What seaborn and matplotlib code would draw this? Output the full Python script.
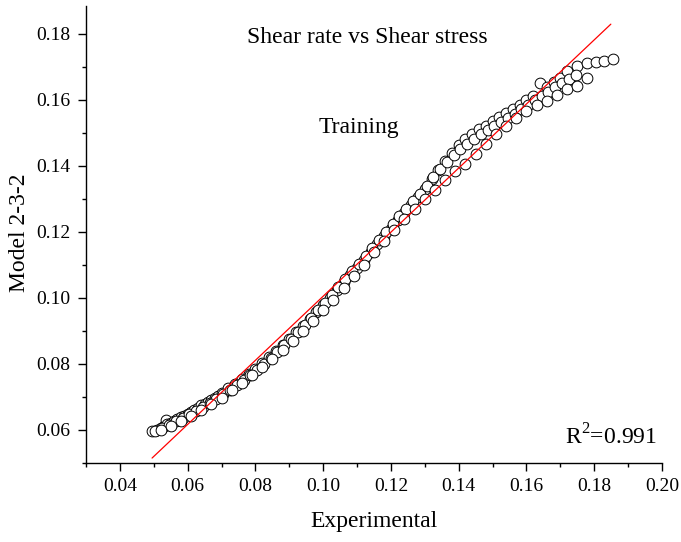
import matplotlib
matplotlib.use("Agg")
import matplotlib.pyplot as plt
import seaborn as sns
import pandas as pd
from matplotlib.ticker import MultipleLocator, FormatStrFormatter

# ---- data ----
exp_upper = [0.0495, 0.051, 0.052, 0.053, 0.0536, 0.054, 0.055, 0.056, 0.057, 0.058, 0.059,
             0.060, 0.061, 0.062, 0.063, 0.064, 0.065, 0.066, 0.067, 0.068, 0.069,
             0.070, 0.072, 0.074, 0.076, 0.078, 0.080, 0.082, 0.084, 0.086, 0.088,
             0.090, 0.092, 0.094, 0.096, 0.098, 0.100, 0.102, 0.104, 0.106, 0.108,
             0.110, 0.112, 0.114, 0.116, 0.118, 0.120, 0.122, 0.124, 0.126, 0.128,
             0.130, 0.132, 0.134, 0.136, 0.138, 0.140, 0.142, 0.144, 0.146, 0.148,
             0.150, 0.152, 0.154, 0.156, 0.158, 0.160, 0.162, 0.164, 0.166, 0.168,
             0.170, 0.172, 0.1748, 0.1778, 0.1806, 0.183, 0.1855]
mod_upper = [0.0596, 0.0601, 0.0606, 0.0612, 0.0630, 0.0618, 0.0622, 0.0628, 0.0633, 0.0638, 0.0643,
             0.0648, 0.0655, 0.0660, 0.0668, 0.0675, 0.0680, 0.0686, 0.0692, 0.0698, 0.0704,
             0.0712, 0.0726, 0.0740, 0.0755, 0.0770, 0.0786, 0.0803, 0.0820, 0.0838, 0.0857,
             0.0877, 0.0896, 0.0916, 0.0936, 0.0957, 0.0978, 0.1000, 0.1025, 0.1048, 0.1070,
             0.1092, 0.1115, 0.1138, 0.1162, 0.1186, 0.1210, 0.1235, 0.1258, 0.1280, 0.1305,
             0.1330, 0.1360, 0.1388, 0.1415, 0.1440, 0.1462, 0.1480, 0.1495, 0.1510, 0.1522,
             0.1535, 0.1548, 0.1560, 0.1572, 0.1585, 0.1598, 0.1612, 0.1651, 0.1640, 0.1655,
             0.1665, 0.1688, 0.1703, 0.1712, 0.1715, 0.1718, 0.1724]

exp_mid = [0.0505, 0.0525, 0.0545, 0.0565, 0.0585, 0.0605, 0.0625, 0.0645, 0.0665, 0.0685,
           0.0705, 0.0725, 0.0745, 0.0765, 0.0785, 0.0805, 0.0825, 0.0845, 0.0865, 0.0885,
           0.0905, 0.0925, 0.0945, 0.0965, 0.0985, 0.1005, 0.1025, 0.1045, 0.1065, 0.1085,
           0.1105, 0.1125, 0.1145, 0.1165, 0.1185, 0.1205, 0.1225, 0.1245, 0.1265, 0.1285,
           0.1305, 0.1325, 0.1345, 0.1365, 0.1385, 0.1405, 0.1425, 0.1445, 0.1465, 0.1485,
           0.1505, 0.1525, 0.1545, 0.1565, 0.1585, 0.1605, 0.1625, 0.1645, 0.1665, 0.1685,
           0.1705, 0.1725, 0.1745]
mod_mid = [0.0597, 0.0605, 0.0615, 0.0626, 0.0636, 0.0647, 0.0658, 0.0670, 0.0682, 0.0695,
           0.0708, 0.0721, 0.0735, 0.0750, 0.0766, 0.0782, 0.0799, 0.0817, 0.0836, 0.0856,
           0.0876, 0.0897, 0.0918, 0.0940, 0.0962, 0.0985, 0.1008, 0.1032, 0.1056, 0.1080,
           0.1104, 0.1128, 0.1152, 0.1176, 0.1200, 0.1223, 0.1247, 0.1270, 0.1293, 0.1316,
           0.1340, 0.1365, 0.1390, 0.1412, 0.1432, 0.1450, 0.1466, 0.1481, 0.1495, 0.1508,
           0.1521, 0.1534, 0.1546, 0.1558, 0.1571, 0.1584, 0.1598, 0.1612, 0.1625, 0.1638,
           0.1650, 0.1662, 0.1675]

exp_lower = [0.052, 0.055, 0.058, 0.061, 0.064, 0.067, 0.070, 0.073, 0.076, 0.079,
             0.082, 0.085, 0.088, 0.091, 0.094, 0.097, 0.100, 0.103, 0.106, 0.109,
             0.112, 0.115, 0.118, 0.121, 0.124, 0.127, 0.130, 0.133, 0.136, 0.139,
             0.142, 0.145, 0.148, 0.151, 0.154, 0.157, 0.160, 0.163, 0.166, 0.169,
             0.172, 0.175, 0.178]
mod_lower = [0.0600, 0.0612, 0.0628, 0.0643, 0.0660, 0.0678, 0.0698, 0.0720, 0.0742, 0.0765,
             0.0790, 0.0815, 0.0842, 0.0870, 0.0900, 0.0930, 0.0962, 0.0995, 0.1030, 0.1065,
             0.1100, 0.1138, 0.1172, 0.1205, 0.1238, 0.1268, 0.1298, 0.1328, 0.1358, 0.1385,
             0.1406, 0.1435, 0.1465, 0.1495, 0.1520, 0.1545, 0.1565, 0.1585, 0.1597, 0.1615,
             0.1632, 0.1642, 0.1665]

fit_x = [0.0495, 0.1849]
fit_y = [0.0515, 0.1829]

title_text = "Shear rate vs Shear stress"
subset_text = "Training"
r2_text = r"R$^2$=0.991"
xlabel = "Experimental"
ylabel = "Model 2-3-2"

# ---- plot ----
sns.set_style("ticks")
plt.rcParams["font.family"] = ["Liberation Serif", "DejaVu Serif"]
plt.rcParams["mathtext.fontset"] = "custom"
plt.rcParams["mathtext.rm"] = "Liberation Serif"
plt.rcParams["text.color"] = "black"
plt.rcParams["axes.labelcolor"] = "black"

df = pd.DataFrame({"Experimental": exp_upper + exp_mid + exp_lower,
                   "Model": mod_upper + mod_mid + mod_lower})

fig = plt.figure(figsize=(6.81, 5.42), dpi=100)
ax = fig.add_axes([86 / 681, 1 - 463 / 542, 576 / 681, 457 / 542])

ax.plot(fit_x, fit_y, color="red", lw=0.9, zorder=3)
sns.scatterplot(data=df, x="Experimental", y="Model", ax=ax, marker="o", s=60,
                facecolor="white", edgecolor="black", linewidth=0.7, zorder=2)

ax.set_xlim(0.03, 0.20)
ax.set_ylim(0.05, 0.1884)
ax.xaxis.set_major_locator(MultipleLocator(0.02))
ax.xaxis.set_minor_locator(MultipleLocator(0.01))
ax.yaxis.set_major_locator(MultipleLocator(0.02))
ax.yaxis.set_minor_locator(MultipleLocator(0.01))
ax.xaxis.set_major_formatter(FormatStrFormatter("%.2f"))
ax.yaxis.set_major_formatter(FormatStrFormatter("%.2f"))

for s in ["top", "right"]:
    ax.spines[s].set_visible(False)
for s in ["left", "bottom"]:
    ax.spines[s].set_linewidth(1.0)
    ax.spines[s].set_color("black")

ax.tick_params(which="major", direction="out", length=6, width=1.0, labelsize=14,
               colors="black", pad=5)
ax.tick_params(which="minor", direction="out", length=3.2, width=1.0, colors="black")

ax.set_xlabel(xlabel, fontsize=17, color="black")
ax.set_ylabel(ylabel, fontsize=17, color="black")
ax.xaxis.label.set_va("center")
ax.yaxis.label.set_va("center")
ax.xaxis.set_label_coords((374 - 86) / 576, (463 - 522) / 457)
ax.yaxis.set_label_coords((20 - 86) / 576, (463 - 233) / 457)

fig.text(367 / 681, 1 - 38 / 542, title_text, fontsize=17, ha="center", va="center", color="black")
fig.text(359 / 681, 1 - 128 / 542, subset_text, fontsize=17, ha="center", va="center", color="black")
fig.text(657 / 681, 1 - 437 / 542, r2_text, fontsize=17, ha="right", va="center", color="black")

fig.savefig("out.png", dpi=100)
